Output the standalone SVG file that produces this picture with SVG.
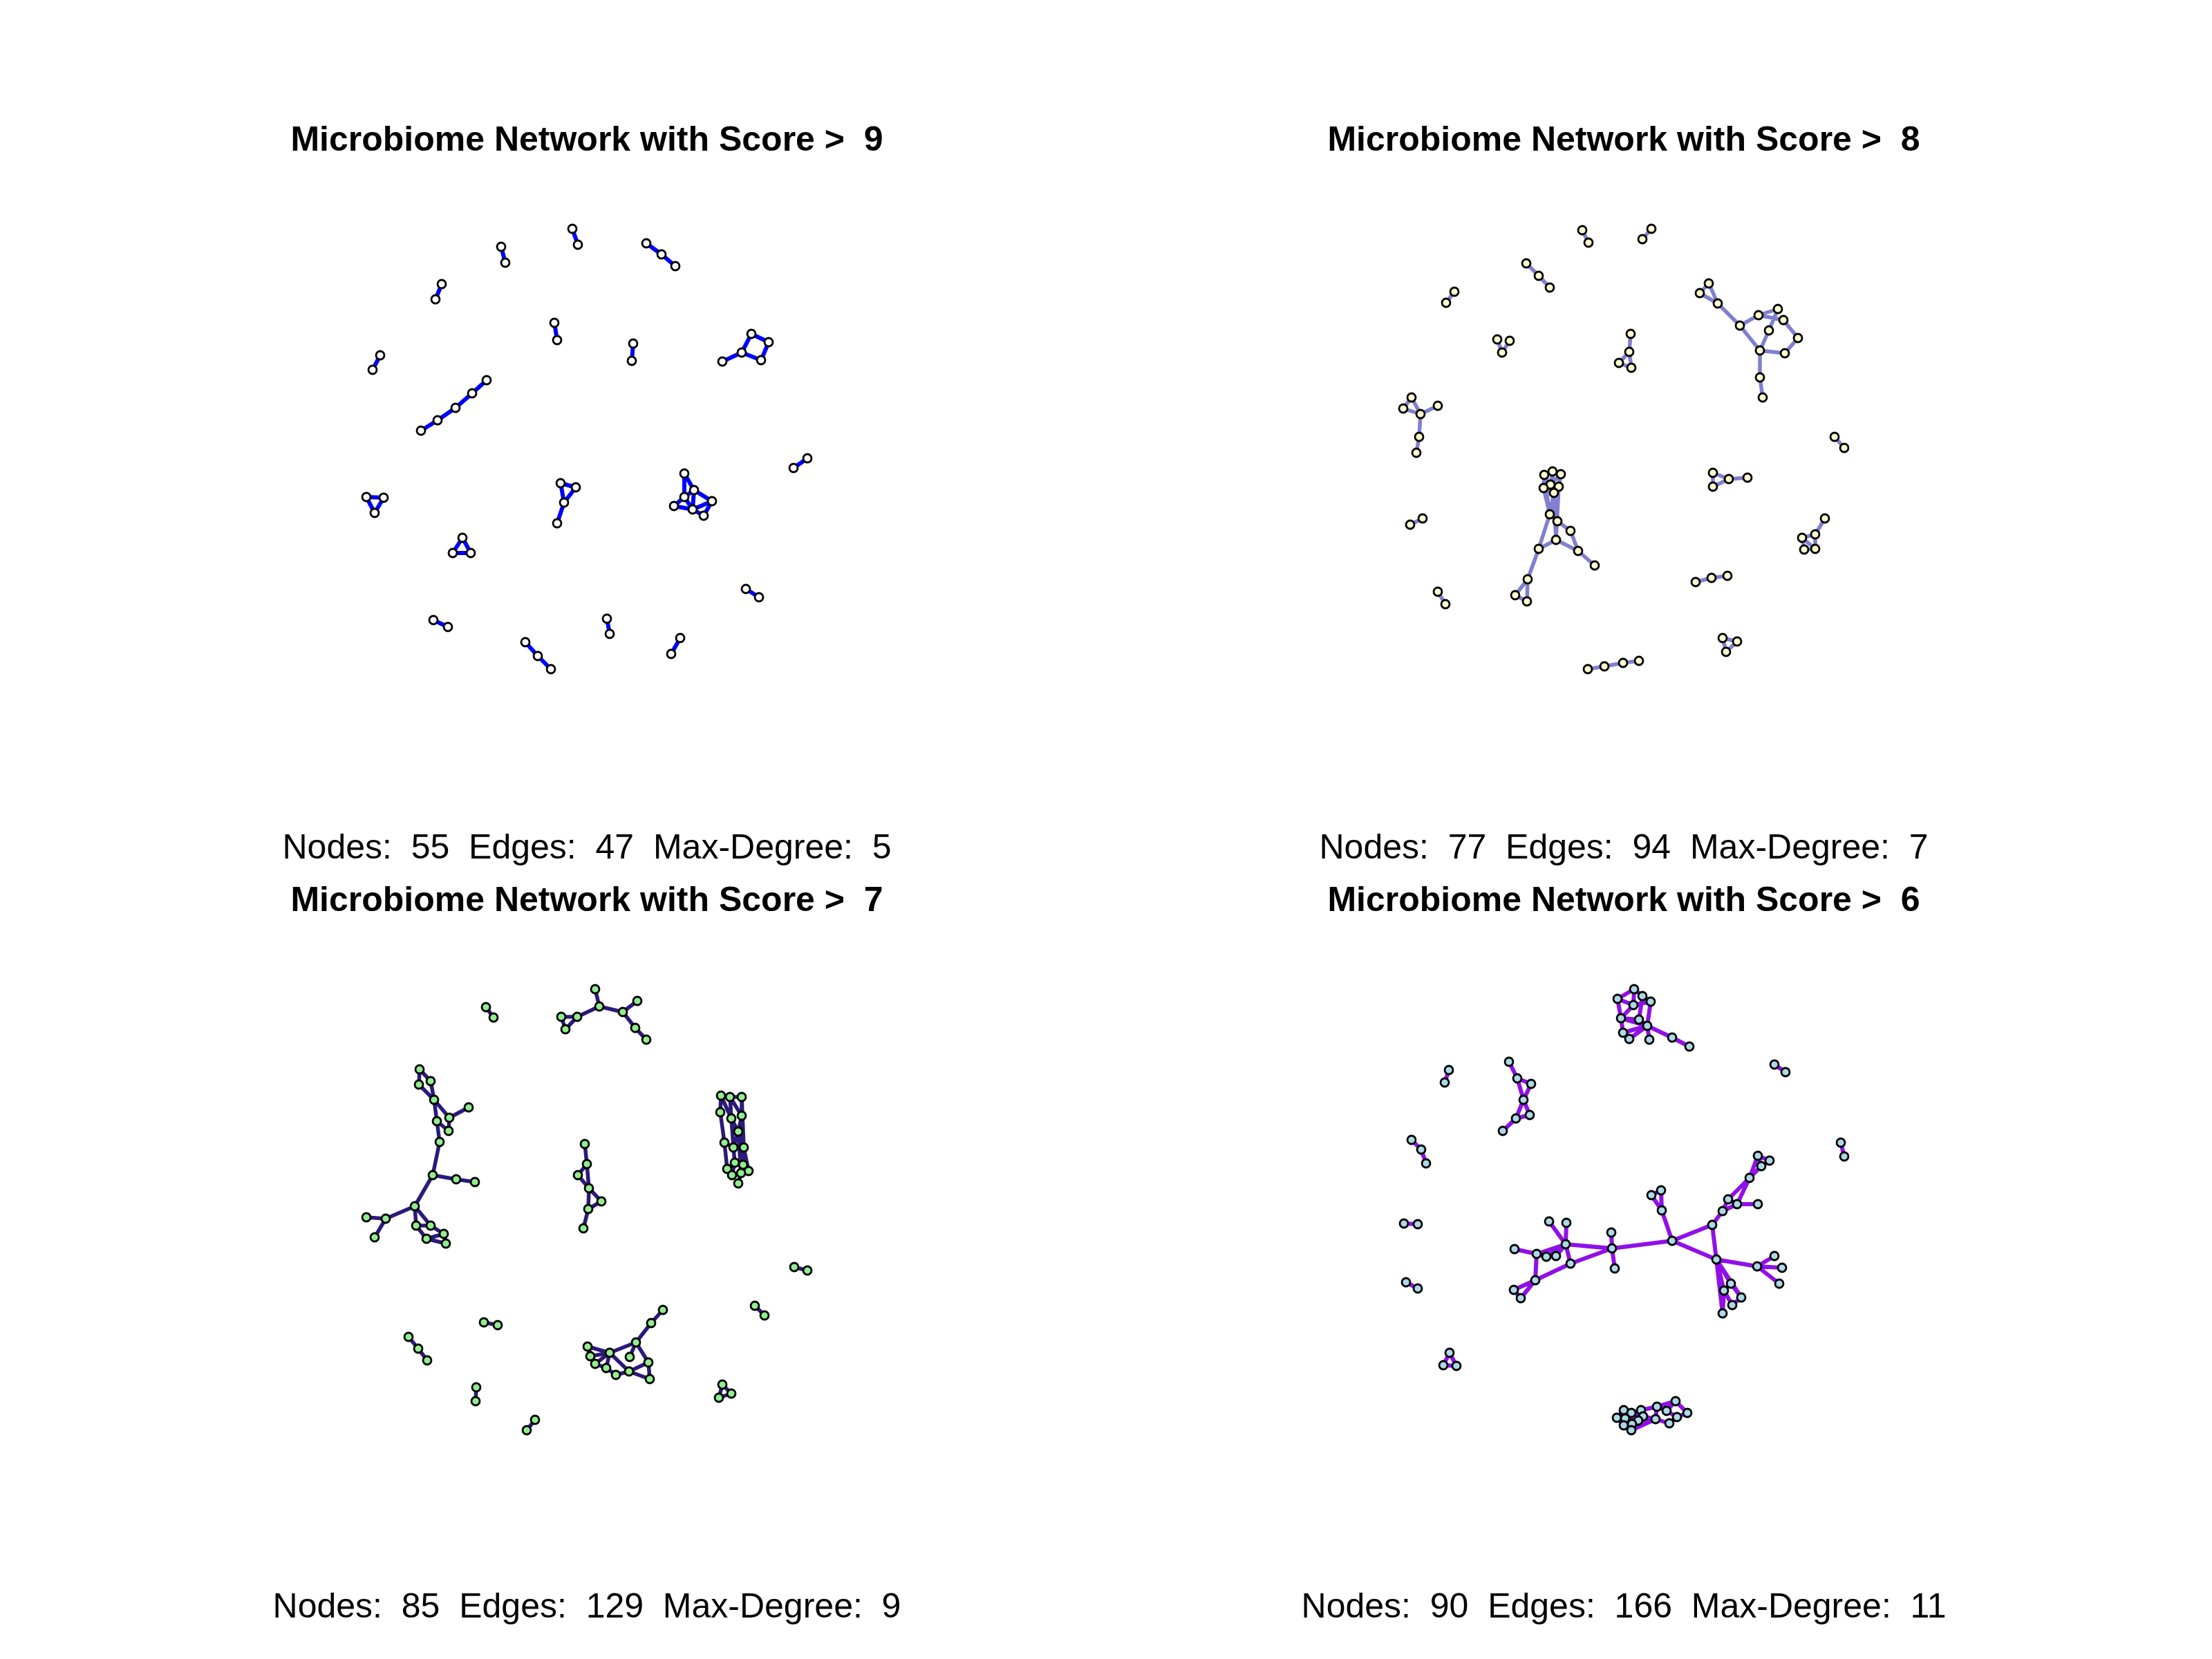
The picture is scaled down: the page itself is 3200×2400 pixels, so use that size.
<svg xmlns="http://www.w3.org/2000/svg" width="3200" height="2400" viewBox="0 0 3200 2400">
<style>
.title{font-family:"Liberation Sans",Arial,sans-serif;font-size:50px;font-weight:bold;text-anchor:middle;fill:#000}
.sub{font-family:"Liberation Sans",Arial,sans-serif;font-size:50px;text-anchor:middle;fill:#000}
.e{fill:none;stroke-linecap:round;stroke-linejoin:round}
.e1{stroke:#0000FF;stroke-width:6}
.e2{stroke:#8080D0;stroke-width:5.5}
.e3{stroke:#2B1A7A;stroke-width:5.5}
.e4{stroke:#9010E8;stroke-width:6}
circle{stroke:#000;stroke-width:2.8}
.n1 circle{fill:#FFFFFF}
.n2 circle{fill:#FFFFD0}
.n3 circle{fill:#90EE90}
.n4 circle{fill:#ADD8E6}
</style>
<rect width="3200" height="2400" fill="#FFFFFF"/>
<g id="texts">
<text class="title" x="849" y="218" xml:space="preserve">Microbiome Network with Score &gt;  9</text>
<text class="sub" x="849" y="1242" xml:space="preserve">Nodes:  55  Edges:  47  Max-Degree:  5</text>
<text class="title" x="2349" y="218" xml:space="preserve">Microbiome Network with Score &gt;  8</text>
<text class="sub" x="2349" y="1242" xml:space="preserve">Nodes:  77  Edges:  94  Max-Degree:  7</text>
<text class="title" x="849" y="1318" xml:space="preserve">Microbiome Network with Score &gt;  7</text>
<text class="sub" x="849" y="2340" xml:space="preserve">Nodes:  85  Edges:  129  Max-Degree:  9</text>
<text class="title" x="2349" y="1318" xml:space="preserve">Microbiome Network with Score &gt;  6</text>
<text class="sub" x="2349" y="2340" xml:space="preserve">Nodes:  90  Edges:  166  Max-Degree:  11</text>
</g>
<g id="connectors">
<path id="edges-p1" class="e e1" d="M828 331L836 354 M725 357L731 380 M935 352L957 368L977 385 M639 411L630 433 M802 467L806 492 M916 497L914 522 M550 514L539 535 M704 550L683 569L659 590L633 608L609 623 M1087 483L1112 495L1101 521L1073 510L1087 483 M1073 510L1045 523 M1168 663L1148 677 M530 719L555 720L542 742Z M811 699L833 705L816 727Z M816 727L806 757 M669 778L655 800L681 800Z M990 685L1004 709 M990 685L990 719 M1004 709L1030 725 M1004 709L1002 737 M990 719L975 732 M990 719L1002 737 M975 732L1002 737 M1030 725L1002 737 M1030 725L1018 746 M1002 737L1018 746 M1004 709L990 719 M1079 852L1098 864 M627 897L648 907 M760 929L778 949L797 968 M878 895L882 917 M984 923L971 946"/>
<path id="edges-p2" class="e e2" d="M2289 333L2298 351 M2389 331L2376 346 M2208 381L2226 399L2242 416 M2104 422L2092 438 M2166 491L2173 510L2184 493 M2359 483L2357 509L2342 525L2360 532L2357 509 M2472 410L2459 424L2485 439L2472 410 M2485 439L2517 471L2546 507L2546 546L2550 575 M2517 471L2544 456L2580 463L2601 489L2582 511L2546 507 M2572 447L2559 478L2546 507 M2544 456L2572 447 M2042 575L2030 591L2055 599L2042 575 M2055 599L2080 587 M2055 599L2053 632L2049 655 M2654 632L2668 648 M2040 759L2058 750 M2080 856L2091 874 M2234 687L2246 682L2258 686L2255 704L2248 713L2233 706L2234 687 M2243 701L2246 682 M2243 701L2255 704 M2234 687L2248 713 M2258 686L2243 701 M2233 706L2242 744 M2234 687L2242 744 M2248 713L2242 744 M2246 682L2251 781 M2255 704L2251 781 M2243 701L2253 754 M2242 744L2253 754L2272 768L2283 797 M2248 713L2251 781 M2251 781L2283 797L2307 818 M2242 744L2226 794 M2251 781L2226 794 M2226 794L2210 838L2192 861L2209 870L2210 838 M2478 684L2501 693L2528 691 M2478 684L2478 704L2501 693 M2640 750L2626 773L2607 778L2610 795L2626 794L2626 773 M2607 778L2626 794 M2453 842L2476 836L2499 833 M2492 923L2513 928L2497 943Z M2297 968L2321 964L2348 959L2371 956"/>
<path id="edges-p3" class="e e3" d="M703 1457L714 1472 M861 1431L867 1456L835 1471L812 1471L818 1489L835 1471 M867 1456L901 1464L922 1448 M901 1464L919 1487L935 1504 M607 1547L623 1564L628 1591L606 1569L607 1547 M628 1591L650 1617L678 1602 M628 1591L632 1622L636 1652L626 1700L660 1706L687 1710 M632 1622L649 1636L650 1617 M626 1700L600 1745L558 1763L530 1761 M558 1763L542 1790 M600 1745L602 1773L617 1792L645 1799L642 1785L623 1773L600 1745 M602 1773L623 1773 M617 1792L642 1785 M846 1655L849 1684L836 1700L852 1719L849 1684 M852 1719L870 1738L851 1749L852 1719 M851 1749L844 1777 M1043 1585L1056 1587L1073 1587 M1043 1585L1042 1609L1048 1653L1052 1691L1059 1700L1072 1697L1068 1712 M1043 1585L1058 1618L1061 1660L1063 1682L1075 1685L1083 1694 M1056 1587L1073 1614L1068 1637L1061 1660 M1073 1587L1076 1660L1083 1694 M1058 1618L1068 1637L1076 1660 M1056 1587L1061 1660 M1073 1614L1075 1685 M1063 1682L1059 1700 M1048 1653L1061 1660 M1073 1587L1073 1614 M1068 1637L1072 1697 M1052 1691L1063 1682 M959 1895L942 1914L920 1942 M920 1942L882 1957L850 1948 M920 1942L911 1963 M920 1942L938 1971L940 1995L910 1984L891 1989L877 1979L861 1973L854 1962L850 1948 M882 1957L854 1962 M882 1957L861 1973 M882 1957L877 1979 M882 1957L910 1984 M910 1984L938 1971 M850 1948L861 1973 M1149 1833L1168 1838 M1092 1889L1106 1903 M591 1934L605 1951L618 1968 M700 1913L720 1917 M689 2007L688 2027 M774 2054L762 2069 M1045 2003L1058 2016L1040 2022Z"/>
<path id="edges-p4" class="e e4" d="M2364 1431L2340 1445L2345 1473L2348 1494L2357 1503 M2364 1431L2376 1441L2388 1449L2383 1484 M2364 1431L2363 1454 M2340 1445L2363 1454L2345 1473L2371 1475L2383 1484L2348 1494 M2376 1441L2371 1475 M2363 1454L2388 1449 M2345 1473L2383 1484 M2383 1484L2357 1503 M2383 1484L2386 1504 M2383 1484L2419 1501L2444 1514 M2096 1548L2090 1566 M2183 1536L2195 1560L2215 1568L2204 1591L2195 1560 M2204 1591L2213 1613L2193 1618L2204 1591 M2193 1618L2174 1636 M2567 1540L2583 1551 M2042 1649L2056 1663L2063 1683 M2663 1653L2668 1673 M2543 1672L2560 1679L2548 1687L2543 1672 M2543 1672L2531 1704L2548 1687 M2531 1704L2500 1735L2492 1752 M2531 1704L2513 1742L2543 1742 M2500 1735L2513 1742 M2513 1742L2492 1752L2477 1772L2419 1795L2483 1822L2477 1772 M2389 1729L2403 1722L2404 1751L2389 1729 M2404 1751L2419 1795 M2419 1795L2332 1806 M2332 1806L2331 1783 M2332 1806L2336 1835 M2332 1806L2265 1800L2241 1767 M2265 1800L2266 1769 M2265 1800L2223 1814L2191 1807 M2265 1800L2237 1818 M2265 1800L2251 1817 M2265 1800L2272 1828 M2332 1806L2272 1828L2221 1852 M2223 1814L2221 1852L2190 1866L2200 1878L2221 1852 M2223 1814L2237 1818L2251 1817 M2483 1822L2542 1832L2567 1817 M2542 1832L2578 1834 M2542 1832L2574 1857 M2483 1822L2504 1857L2519 1877L2506 1888L2494 1867L2483 1822 M2483 1822L2519 1877 M2483 1822L2492 1900 M2494 1867L2492 1900 M2031 1770L2051 1771 M2034 1855L2051 1864 M2097 1957L2088 1975L2107 1976Z M2349 2040L2360 2044L2374 2040L2377 2049L2370 2055L2361 2060L2360 2069L2349 2062L2339 2051L2349 2040 M2351 2052L2360 2044 M2351 2052L2370 2055 M2351 2052L2349 2062 M2339 2051L2351 2052 M2360 2044L2377 2049 M2374 2040L2397 2035L2424 2027L2441 2044L2426 2050L2415 2059L2395 2053L2397 2035 M2411 2041L2424 2027 M2411 2041L2426 2050 M2397 2035L2411 2041 M2377 2049L2395 2053 M2360 2069L2395 2053 M2370 2055L2395 2053 M2361 2060L2377 2049 M2349 2040L2351 2052"/>
</g>
<g id="nodes-p1" class="n1">
<g id="p1n1"><circle cx="828" cy="331" r="6"/></g><g id="p1n2"><circle cx="836" cy="354" r="6"/></g>
<g id="p1n3"><circle cx="725" cy="357" r="6"/></g><g id="p1n4"><circle cx="731" cy="380" r="6"/></g>
<g id="p1n5"><circle cx="935" cy="352" r="6"/></g><g id="p1n6"><circle cx="957" cy="368" r="6"/></g><g id="p1n7"><circle cx="977" cy="385" r="6"/></g>
<g id="p1n8"><circle cx="639" cy="411" r="6"/></g><g id="p1n9"><circle cx="630" cy="433" r="6"/></g>
<g id="p1n10"><circle cx="802" cy="467" r="6"/></g><g id="p1n11"><circle cx="806" cy="492" r="6"/></g>
<g id="p1n12"><circle cx="916" cy="497" r="6"/></g><g id="p1n13"><circle cx="914" cy="522" r="6"/></g>
<g id="p1n14"><circle cx="550" cy="514" r="6"/></g><g id="p1n15"><circle cx="539" cy="535" r="6"/></g>
<g id="p1n16"><circle cx="704" cy="550" r="6"/></g><g id="p1n17"><circle cx="683" cy="569" r="6"/></g><g id="p1n18"><circle cx="659" cy="590" r="6"/></g><g id="p1n19"><circle cx="633" cy="608" r="6"/></g><g id="p1n20"><circle cx="609" cy="623" r="6"/></g>
<g id="p1n21"><circle cx="1087" cy="483" r="6"/></g><g id="p1n22"><circle cx="1112" cy="495" r="6"/></g><g id="p1n23"><circle cx="1073" cy="510" r="6"/></g><g id="p1n24"><circle cx="1101" cy="521" r="6"/></g><g id="p1n25"><circle cx="1045" cy="523" r="6"/></g>
<g id="p1n26"><circle cx="1168" cy="663" r="6"/></g><g id="p1n27"><circle cx="1148" cy="677" r="6"/></g>
<g id="p1n28"><circle cx="530" cy="719" r="6"/></g><g id="p1n29"><circle cx="555" cy="720" r="6"/></g><g id="p1n30"><circle cx="542" cy="742" r="6"/></g>
<g id="p1n31"><circle cx="811" cy="699" r="6"/></g><g id="p1n32"><circle cx="833" cy="705" r="6"/></g><g id="p1n33"><circle cx="816" cy="727" r="6"/></g><g id="p1n34"><circle cx="806" cy="757" r="6"/></g>
<g id="p1n35"><circle cx="669" cy="778" r="6"/></g><g id="p1n36"><circle cx="655" cy="800" r="6"/></g><g id="p1n37"><circle cx="681" cy="800" r="6"/></g>
<g id="p1n38"><circle cx="990" cy="685" r="6"/></g><g id="p1n39"><circle cx="1004" cy="709" r="6"/></g><g id="p1n40"><circle cx="990" cy="719" r="6"/></g><g id="p1n41"><circle cx="1030" cy="725" r="6"/></g><g id="p1n42"><circle cx="975" cy="732" r="6"/></g><g id="p1n43"><circle cx="1002" cy="737" r="6"/></g><g id="p1n44"><circle cx="1018" cy="746" r="6"/></g>
<g id="p1n45"><circle cx="1079" cy="852" r="6"/></g><g id="p1n46"><circle cx="1098" cy="864" r="6"/></g>
<g id="p1n47"><circle cx="627" cy="897" r="6"/></g><g id="p1n48"><circle cx="648" cy="907" r="6"/></g>
<g id="p1n49"><circle cx="760" cy="929" r="6"/></g><g id="p1n50"><circle cx="778" cy="949" r="6"/></g><g id="p1n51"><circle cx="797" cy="968" r="6"/></g>
<g id="p1n52"><circle cx="878" cy="895" r="6"/></g><g id="p1n53"><circle cx="882" cy="917" r="6"/></g>
<g id="p1n54"><circle cx="984" cy="923" r="6"/></g><g id="p1n55"><circle cx="971" cy="946" r="6"/></g>
</g>
<g id="nodes-p2" class="n2">
<g id="p2n1"><circle cx="2289" cy="333" r="6"/></g><g id="p2n2"><circle cx="2298" cy="351" r="6"/></g>
<g id="p2n3"><circle cx="2389" cy="331" r="6"/></g><g id="p2n4"><circle cx="2376" cy="346" r="6"/></g>
<g id="p2n5"><circle cx="2208" cy="381" r="6"/></g><g id="p2n6"><circle cx="2226" cy="399" r="6"/></g><g id="p2n7"><circle cx="2242" cy="416" r="6"/></g>
<g id="p2n8"><circle cx="2104" cy="422" r="6"/></g><g id="p2n9"><circle cx="2092" cy="438" r="6"/></g>
<g id="p2n10"><circle cx="2166" cy="491" r="6"/></g><g id="p2n11"><circle cx="2184" cy="493" r="6"/></g><g id="p2n12"><circle cx="2173" cy="510" r="6"/></g>
<g id="p2n13"><circle cx="2359" cy="483" r="6"/></g><g id="p2n14"><circle cx="2357" cy="509" r="6"/></g><g id="p2n15"><circle cx="2342" cy="525" r="6"/></g><g id="p2n16"><circle cx="2360" cy="532" r="6"/></g>
<g id="p2n17"><circle cx="2472" cy="410" r="6"/></g><g id="p2n18"><circle cx="2459" cy="424" r="6"/></g><g id="p2n19"><circle cx="2485" cy="439" r="6"/></g><g id="p2n20"><circle cx="2517" cy="471" r="6"/></g><g id="p2n21"><circle cx="2544" cy="456" r="6"/></g><g id="p2n22"><circle cx="2572" cy="447" r="6"/></g><g id="p2n23"><circle cx="2580" cy="463" r="6"/></g><g id="p2n24"><circle cx="2559" cy="478" r="6"/></g><g id="p2n25"><circle cx="2601" cy="489" r="6"/></g><g id="p2n26"><circle cx="2546" cy="507" r="6"/></g><g id="p2n27"><circle cx="2582" cy="511" r="6"/></g><g id="p2n28"><circle cx="2546" cy="546" r="6"/></g><g id="p2n29"><circle cx="2550" cy="575" r="6"/></g>
<g id="p2n30"><circle cx="2042" cy="575" r="6"/></g><g id="p2n31"><circle cx="2030" cy="591" r="6"/></g><g id="p2n32"><circle cx="2055" cy="599" r="6"/></g><g id="p2n33"><circle cx="2080" cy="587" r="6"/></g><g id="p2n34"><circle cx="2053" cy="632" r="6"/></g><g id="p2n35"><circle cx="2049" cy="655" r="6"/></g>
<g id="p2n36"><circle cx="2654" cy="632" r="6"/></g><g id="p2n37"><circle cx="2668" cy="648" r="6"/></g>
<g id="p2n38"><circle cx="2040" cy="759" r="6"/></g><g id="p2n39"><circle cx="2058" cy="750" r="6"/></g>
<g id="p2n40"><circle cx="2080" cy="856" r="6"/></g><g id="p2n41"><circle cx="2091" cy="874" r="6"/></g>
<g id="p2n42"><circle cx="2234" cy="687" r="6"/></g><g id="p2n43"><circle cx="2246" cy="682" r="6"/></g><g id="p2n44"><circle cx="2258" cy="686" r="6"/></g><g id="p2n45"><circle cx="2243" cy="701" r="6"/></g><g id="p2n46"><circle cx="2255" cy="704" r="6"/></g><g id="p2n47"><circle cx="2233" cy="706" r="6"/></g><g id="p2n48"><circle cx="2248" cy="713" r="6"/></g><g id="p2n49"><circle cx="2242" cy="744" r="6"/></g><g id="p2n50"><circle cx="2253" cy="754" r="6"/></g><g id="p2n51"><circle cx="2272" cy="768" r="6"/></g><g id="p2n52"><circle cx="2251" cy="781" r="6"/></g><g id="p2n53"><circle cx="2226" cy="794" r="6"/></g><g id="p2n54"><circle cx="2283" cy="797" r="6"/></g><g id="p2n55"><circle cx="2307" cy="818" r="6"/></g><g id="p2n56"><circle cx="2210" cy="838" r="6"/></g><g id="p2n57"><circle cx="2192" cy="861" r="6"/></g><g id="p2n58"><circle cx="2209" cy="870" r="6"/></g>
<g id="p2n59"><circle cx="2478" cy="684" r="6"/></g><g id="p2n60"><circle cx="2501" cy="693" r="6"/></g><g id="p2n61"><circle cx="2528" cy="691" r="6"/></g><g id="p2n62"><circle cx="2478" cy="704" r="6"/></g>
<g id="p2n63"><circle cx="2640" cy="750" r="6"/></g><g id="p2n64"><circle cx="2626" cy="773" r="6"/></g><g id="p2n65"><circle cx="2607" cy="778" r="6"/></g><g id="p2n66"><circle cx="2610" cy="795" r="6"/></g><g id="p2n67"><circle cx="2626" cy="794" r="6"/></g>
<g id="p2n68"><circle cx="2453" cy="842" r="6"/></g><g id="p2n69"><circle cx="2476" cy="836" r="6"/></g><g id="p2n70"><circle cx="2499" cy="833" r="6"/></g>
<g id="p2n71"><circle cx="2492" cy="923" r="6"/></g><g id="p2n72"><circle cx="2513" cy="928" r="6"/></g><g id="p2n73"><circle cx="2497" cy="943" r="6"/></g>
<g id="p2n74"><circle cx="2297" cy="968" r="6"/></g><g id="p2n75"><circle cx="2321" cy="964" r="6"/></g><g id="p2n76"><circle cx="2348" cy="959" r="6"/></g><g id="p2n77"><circle cx="2371" cy="956" r="6"/></g>
</g>
<g id="nodes-p3" class="n3">
<g id="p3n1"><circle cx="703" cy="1457" r="6"/></g><g id="p3n2"><circle cx="714" cy="1472" r="6"/></g>
<g id="p3n3"><circle cx="861" cy="1431" r="6"/></g><g id="p3n4"><circle cx="867" cy="1456" r="6"/></g><g id="p3n5"><circle cx="835" cy="1471" r="6"/></g><g id="p3n6"><circle cx="812" cy="1471" r="6"/></g><g id="p3n7"><circle cx="818" cy="1489" r="6"/></g><g id="p3n8"><circle cx="901" cy="1464" r="6"/></g><g id="p3n9"><circle cx="922" cy="1448" r="6"/></g><g id="p3n10"><circle cx="919" cy="1487" r="6"/></g><g id="p3n11"><circle cx="935" cy="1504" r="6"/></g>
<g id="p3n12"><circle cx="607" cy="1547" r="6"/></g><g id="p3n13"><circle cx="623" cy="1564" r="6"/></g><g id="p3n14"><circle cx="606" cy="1569" r="6"/></g><g id="p3n15"><circle cx="628" cy="1591" r="6"/></g><g id="p3n16"><circle cx="678" cy="1602" r="6"/></g><g id="p3n17"><circle cx="650" cy="1617" r="6"/></g><g id="p3n18"><circle cx="632" cy="1622" r="6"/></g><g id="p3n19"><circle cx="649" cy="1636" r="6"/></g><g id="p3n20"><circle cx="636" cy="1652" r="6"/></g><g id="p3n21"><circle cx="626" cy="1700" r="6"/></g><g id="p3n22"><circle cx="660" cy="1706" r="6"/></g><g id="p3n23"><circle cx="687" cy="1710" r="6"/></g><g id="p3n24"><circle cx="600" cy="1745" r="6"/></g><g id="p3n25"><circle cx="558" cy="1763" r="6"/></g><g id="p3n26"><circle cx="530" cy="1761" r="6"/></g><g id="p3n27"><circle cx="542" cy="1790" r="6"/></g><g id="p3n28"><circle cx="602" cy="1773" r="6"/></g><g id="p3n29"><circle cx="623" cy="1773" r="6"/></g><g id="p3n30"><circle cx="617" cy="1792" r="6"/></g><g id="p3n31"><circle cx="642" cy="1785" r="6"/></g><g id="p3n32"><circle cx="645" cy="1799" r="6"/></g>
<g id="p3n33"><circle cx="846" cy="1655" r="6"/></g><g id="p3n34"><circle cx="849" cy="1684" r="6"/></g><g id="p3n35"><circle cx="836" cy="1700" r="6"/></g><g id="p3n36"><circle cx="852" cy="1719" r="6"/></g><g id="p3n37"><circle cx="870" cy="1738" r="6"/></g><g id="p3n38"><circle cx="851" cy="1749" r="6"/></g><g id="p3n39"><circle cx="844" cy="1777" r="6"/></g>
<g id="p3n40"><circle cx="1043" cy="1585" r="6"/></g><g id="p3n41"><circle cx="1056" cy="1587" r="6"/></g><g id="p3n42"><circle cx="1073" cy="1587" r="6"/></g><g id="p3n43"><circle cx="1042" cy="1609" r="6"/></g><g id="p3n44"><circle cx="1058" cy="1618" r="6"/></g><g id="p3n45"><circle cx="1073" cy="1614" r="6"/></g><g id="p3n46"><circle cx="1068" cy="1637" r="6"/></g><g id="p3n47"><circle cx="1048" cy="1653" r="6"/></g><g id="p3n48"><circle cx="1061" cy="1660" r="6"/></g><g id="p3n49"><circle cx="1076" cy="1660" r="6"/></g><g id="p3n50"><circle cx="1063" cy="1682" r="6"/></g><g id="p3n51"><circle cx="1075" cy="1685" r="6"/></g><g id="p3n52"><circle cx="1052" cy="1691" r="6"/></g><g id="p3n53"><circle cx="1083" cy="1694" r="6"/></g><g id="p3n54"><circle cx="1059" cy="1700" r="6"/></g><g id="p3n55"><circle cx="1072" cy="1697" r="6"/></g><g id="p3n56"><circle cx="1068" cy="1712" r="6"/></g>
<g id="p3n57"><circle cx="1149" cy="1833" r="6"/></g><g id="p3n58"><circle cx="1168" cy="1838" r="6"/></g>
<g id="p3n59"><circle cx="1092" cy="1889" r="6"/></g><g id="p3n60"><circle cx="1106" cy="1903" r="6"/></g>
<g id="p3n61"><circle cx="591" cy="1934" r="6"/></g><g id="p3n62"><circle cx="605" cy="1951" r="6"/></g><g id="p3n63"><circle cx="618" cy="1968" r="6"/></g>
<g id="p3n64"><circle cx="700" cy="1913" r="6"/></g><g id="p3n65"><circle cx="720" cy="1917" r="6"/></g>
<g id="p3n66"><circle cx="689" cy="2007" r="6"/></g><g id="p3n67"><circle cx="688" cy="2027" r="6"/></g>
<g id="p3n68"><circle cx="774" cy="2054" r="6"/></g><g id="p3n69"><circle cx="762" cy="2069" r="6"/></g>
<g id="p3n70"><circle cx="1045" cy="2003" r="6"/></g><g id="p3n71"><circle cx="1058" cy="2016" r="6"/></g><g id="p3n72"><circle cx="1040" cy="2022" r="6"/></g>
<g id="p3n73"><circle cx="959" cy="1895" r="6"/></g><g id="p3n74"><circle cx="942" cy="1914" r="6"/></g><g id="p3n75"><circle cx="920" cy="1942" r="6"/></g><g id="p3n76"><circle cx="850" cy="1948" r="6"/></g><g id="p3n77"><circle cx="882" cy="1957" r="6"/></g><g id="p3n78"><circle cx="854" cy="1962" r="6"/></g><g id="p3n79"><circle cx="911" cy="1963" r="6"/></g><g id="p3n80"><circle cx="861" cy="1973" r="6"/></g><g id="p3n81"><circle cx="938" cy="1971" r="6"/></g><g id="p3n82"><circle cx="877" cy="1979" r="6"/></g><g id="p3n83"><circle cx="891" cy="1989" r="6"/></g><g id="p3n84"><circle cx="910" cy="1984" r="6"/></g><g id="p3n85"><circle cx="940" cy="1995" r="6"/></g>
</g>
<g id="nodes-p4" class="n4">
<g id="p4n1"><circle cx="2364" cy="1431" r="6"/></g><g id="p4n2"><circle cx="2340" cy="1445" r="6"/></g><g id="p4n3"><circle cx="2376" cy="1441" r="6"/></g><g id="p4n4"><circle cx="2388" cy="1449" r="6"/></g><g id="p4n5"><circle cx="2363" cy="1454" r="6"/></g><g id="p4n6"><circle cx="2345" cy="1473" r="6"/></g><g id="p4n7"><circle cx="2371" cy="1475" r="6"/></g><g id="p4n8"><circle cx="2383" cy="1484" r="6"/></g><g id="p4n9"><circle cx="2348" cy="1494" r="6"/></g><g id="p4n10"><circle cx="2357" cy="1503" r="6"/></g><g id="p4n11"><circle cx="2386" cy="1504" r="6"/></g><g id="p4n12"><circle cx="2419" cy="1501" r="6"/></g><g id="p4n13"><circle cx="2444" cy="1514" r="6"/></g>
<g id="p4n14"><circle cx="2096" cy="1548" r="6"/></g><g id="p4n15"><circle cx="2090" cy="1566" r="6"/></g>
<g id="p4n16"><circle cx="2183" cy="1536" r="6"/></g><g id="p4n17"><circle cx="2195" cy="1560" r="6"/></g><g id="p4n18"><circle cx="2215" cy="1568" r="6"/></g><g id="p4n19"><circle cx="2204" cy="1591" r="6"/></g><g id="p4n20"><circle cx="2213" cy="1613" r="6"/></g><g id="p4n21"><circle cx="2193" cy="1618" r="6"/></g><g id="p4n22"><circle cx="2174" cy="1636" r="6"/></g>
<g id="p4n23"><circle cx="2567" cy="1540" r="6"/></g><g id="p4n24"><circle cx="2583" cy="1551" r="6"/></g>
<g id="p4n25"><circle cx="2042" cy="1649" r="6"/></g><g id="p4n26"><circle cx="2056" cy="1663" r="6"/></g><g id="p4n27"><circle cx="2063" cy="1683" r="6"/></g>
<g id="p4n28"><circle cx="2663" cy="1653" r="6"/></g><g id="p4n29"><circle cx="2668" cy="1673" r="6"/></g>
<g id="p4n30"><circle cx="2543" cy="1672" r="6"/></g><g id="p4n31"><circle cx="2560" cy="1679" r="6"/></g><g id="p4n32"><circle cx="2548" cy="1687" r="6"/></g><g id="p4n33"><circle cx="2531" cy="1704" r="6"/></g><g id="p4n34"><circle cx="2500" cy="1735" r="6"/></g><g id="p4n35"><circle cx="2513" cy="1742" r="6"/></g><g id="p4n36"><circle cx="2543" cy="1742" r="6"/></g><g id="p4n37"><circle cx="2492" cy="1752" r="6"/></g><g id="p4n38"><circle cx="2477" cy="1772" r="6"/></g><g id="p4n39"><circle cx="2419" cy="1795" r="6"/></g><g id="p4n40"><circle cx="2483" cy="1822" r="6"/></g>
<g id="p4n41"><circle cx="2389" cy="1729" r="6"/></g><g id="p4n42"><circle cx="2403" cy="1722" r="6"/></g><g id="p4n43"><circle cx="2404" cy="1751" r="6"/></g>
<g id="p4n44"><circle cx="2332" cy="1806" r="6"/></g><g id="p4n45"><circle cx="2331" cy="1783" r="6"/></g><g id="p4n46"><circle cx="2336" cy="1835" r="6"/></g><g id="p4n47"><circle cx="2265" cy="1800" r="6"/></g><g id="p4n48"><circle cx="2241" cy="1767" r="6"/></g><g id="p4n49"><circle cx="2266" cy="1769" r="6"/></g><g id="p4n50"><circle cx="2191" cy="1807" r="6"/></g><g id="p4n51"><circle cx="2223" cy="1814" r="6"/></g><g id="p4n52"><circle cx="2237" cy="1818" r="6"/></g><g id="p4n53"><circle cx="2251" cy="1817" r="6"/></g><g id="p4n54"><circle cx="2272" cy="1828" r="6"/></g><g id="p4n55"><circle cx="2221" cy="1852" r="6"/></g><g id="p4n56"><circle cx="2190" cy="1866" r="6"/></g><g id="p4n57"><circle cx="2200" cy="1878" r="6"/></g>
<g id="p4n58"><circle cx="2542" cy="1832" r="6"/></g><g id="p4n59"><circle cx="2567" cy="1817" r="6"/></g><g id="p4n60"><circle cx="2578" cy="1834" r="6"/></g><g id="p4n61"><circle cx="2574" cy="1857" r="6"/></g>
<g id="p4n62"><circle cx="2504" cy="1857" r="6"/></g><g id="p4n63"><circle cx="2494" cy="1867" r="6"/></g><g id="p4n64"><circle cx="2519" cy="1877" r="6"/></g><g id="p4n65"><circle cx="2506" cy="1888" r="6"/></g><g id="p4n66"><circle cx="2492" cy="1900" r="6"/></g>
<g id="p4n67"><circle cx="2031" cy="1770" r="6"/></g><g id="p4n68"><circle cx="2051" cy="1771" r="6"/></g>
<g id="p4n69"><circle cx="2034" cy="1855" r="6"/></g><g id="p4n70"><circle cx="2051" cy="1864" r="6"/></g>
<g id="p4n71"><circle cx="2097" cy="1957" r="6"/></g><g id="p4n72"><circle cx="2088" cy="1975" r="6"/></g><g id="p4n73"><circle cx="2107" cy="1976" r="6"/></g>
<g id="p4n74"><circle cx="2349" cy="2040" r="6"/></g><g id="p4n75"><circle cx="2360" cy="2044" r="6"/></g><g id="p4n76"><circle cx="2374" cy="2040" r="6"/></g><g id="p4n77"><circle cx="2339" cy="2051" r="6"/></g><g id="p4n78"><circle cx="2351" cy="2052" r="6"/></g><g id="p4n79"><circle cx="2377" cy="2049" r="6"/></g><g id="p4n80"><circle cx="2370" cy="2055" r="6"/></g><g id="p4n81"><circle cx="2349" cy="2062" r="6"/></g><g id="p4n82"><circle cx="2361" cy="2060" r="6"/></g><g id="p4n83"><circle cx="2360" cy="2069" r="6"/></g><g id="p4n84"><circle cx="2397" cy="2035" r="6"/></g><g id="p4n85"><circle cx="2424" cy="2027" r="6"/></g><g id="p4n86"><circle cx="2411" cy="2041" r="6"/></g><g id="p4n87"><circle cx="2441" cy="2044" r="6"/></g><g id="p4n88"><circle cx="2395" cy="2053" r="6"/></g><g id="p4n89"><circle cx="2426" cy="2050" r="6"/></g><g id="p4n90"><circle cx="2415" cy="2059" r="6"/></g>
</g>
</svg>
